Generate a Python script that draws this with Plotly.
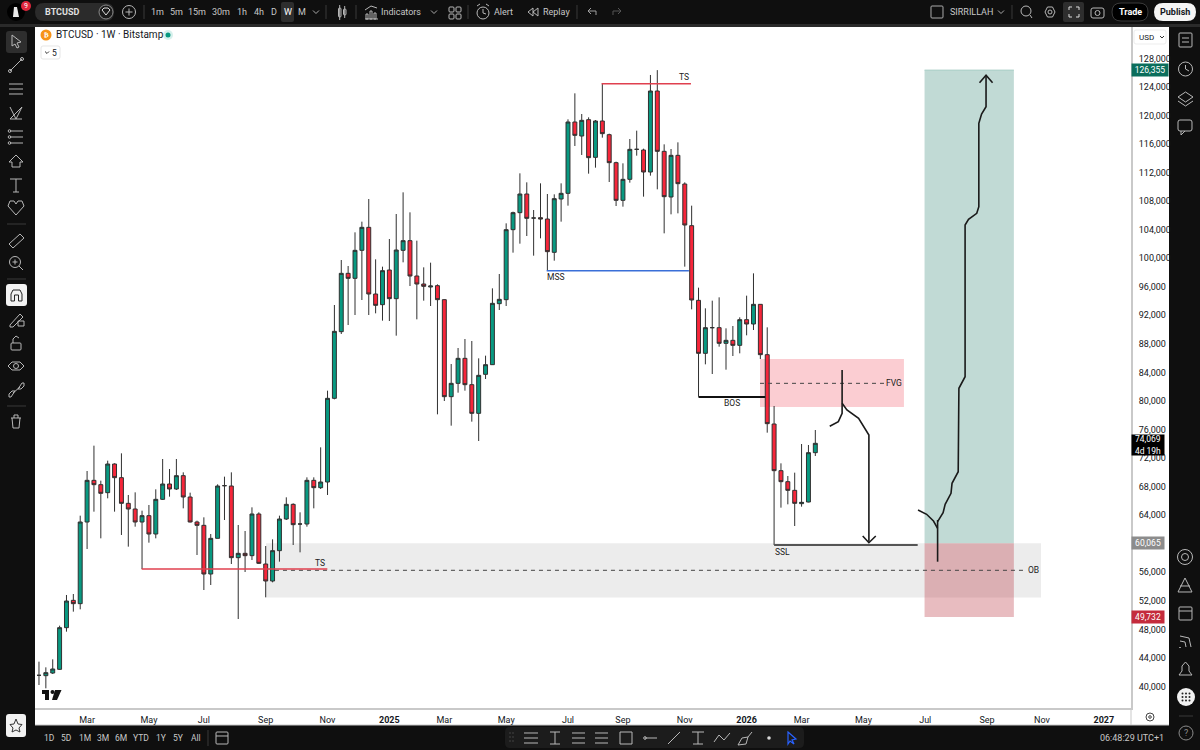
import numpy as np
import plotly.graph_objects as go

# weekly BTCUSD candles
open_p = [41565,41518,41892,42405,48243,52072,51606,63047,68884,68277,67157,71173,69258,65662,64868,63047,
          63934,61366,66222,68371,67670,69538,66549,63047,62580,55762,60759,68137,68090,58050,58657,58330,
          64168,57163,54781,59031,63467,65522,62766,62766,68884,67857,68651,80372,89712,97885,97184,101107,
          104330,94990,93495,98352,94336,101107,102462,97511,96391,95970,96157,94196,80606,82474,85977,82287,
          78271,83735,85089,93635,94196,104003,106384,108999,105637,105684,105497,100827,108299,109093,119087,117125,
          119414,114137,119227,117312,113389,108112,111054,115257,115164,112082,123430,114977,108580,114417,110401,104563,
          94102,86677,90273,90273,88078,88498,87798,91394,90787,93542,86490,76776,70239,68698,67483,65615,65849,72760]
high_p = [43480,42686,43806,48523,52820,52960,63934,70192,73741,68838,71640,71266,72667,66830,67203,64635,
          65429,67623,71873,70472,71873,70005,67157,63234,63701,61366,68324,69398,70005,62627,61786,65102,
          64401,59684,60618,63934,66503,65662,64401,69304,69304,73508,81447,93448,99753,98912,103629,105124,
          108299,99846,98819,102695,106198,109233,106431,102462,98726,99379,96344,94242,85182,87424,88685,88405,
          85977,86350,95784,97792,104890,106524,111895,110634,106758,110494,108999,108953,110494,119460,123103,120208,
          119740,119367,124504,117452,113530,113296,116705,117872,115351,125672,126355,115958,115304,116238,110634,107365,
          95877,92981,94056,94523,90180,90506,91721,94756,97885,93542,90320,79298,71266,69491,69958,73974,73834,75936]
low_p = [40210,39743,41752,42312,47682,50485,50811,59264,64495,60759,66363,64495,61226,59591,62393,56462,
         60151,60759,66129,66596,67530,64962,62990,58423,53520,54220,60759,63327,57163,49457,56042,57723,
         57163,52493,54594,57490,63327,59824,58797,62393,64962,67670,66830,80232,89386,90646,92047,94149,
         92047,92281,91254,91207,89152,99426,96110,91440,94056,93308,78131,79999,76543,81166,81447,77104,
         74395,83081,85042,92748,93308,100780,102041,103115,100360,102789,98259,99660,105124,107365,115725,114464,
         111848,112689,116892,110681,107318,107225,110587,114370,108626,111568,109653,103489,106151,106291,98819,92841,
         80606,85136,83782,87611,84389,86303,86677,89199,89946,85883,75562,59825,65055,65522,62486,65195,65802,72294]
close_p = [41565,41938,42452,48243,51979,51606,63047,68884,68277,67063,71173,69258,65662,64868,63047,63934,
           61366,66222,68371,67670,69538,66549,63047,62580,55762,60759,68090,68137,58050,58657,58330,64168,
           57256,54781,59031,63467,65522,62673,62766,68884,67857,68651,80372,89759,97885,97184,101107,104330,
           94990,93402,98259,94336,101154,102462,97511,96391,96064,96110,94196,80606,82474,85977,82287,78271,
           83595,85089,93682,94242,104003,106384,108999,105590,105637,105497,100920,108346,109093,119087,117219,119320,
           114090,119227,117452,113389,108112,111054,115257,115257,112082,123430,114977,108626,114417,110448,104656,94149,
           86677,90273,90273,88078,88498,87798,91394,90787,93542,86490,76823,70239,68698,67483,65662,65802,72760,74069]
bars = np.arange(len(close_p))

tick_bars = [7,16,24,33,42,51,59,68,77,85,94,103,111,120,129,138,146,155]
tick_labels = ["Mar","May","Jul","Sep","Nov","<b>2025</b>","Mar","May","Jul","Sep","Nov","<b>2026</b>",
               "Mar","May","Jul","Sep","Nov","<b>2027</b>"]
# 60,000 sits under the 60,065 tag in the original
price_ticks = [p for p in range(40000, 132000, 4000) if p != 60000]

# drawings on the chart, bar number and price
ob_bars, ob_prices = [33.04, 145.85], [52468, 60065]
ob_mid_bars, ob_mid_prices = [34.35, 143.5], [56280, 56280]
fvg_bars, fvg_prices = [104.95, 125.9], [79158, 85883]
fvg_mid_bars, fvg_mid_prices = [104.95, 123], [82474, 82474]
target_bars, target_prices = [128.9, 141.9], [60065, 126355]
target_top = [126355, 126355]
stop_prices = [49732, 60065]
ts_top_bars, ts_top_prices = [81.9, 94.9], [124457, 124457]
ts_low_bars, ts_low_prices = [14.95, 41.97], [56462, 56462]
mss_bars, mss_prices = [73.9, 94.6], [98259, 98259]
bos_bars, bos_prices = [96, 105.7], [80560, 80560]
ssl_bars, ssl_prices = [107, 127.9], [59825, 59825]

down_a_bars = [115.1,116.35,116.9,116.9]
down_a_prices = [76454,77098,78275,84342]
down_b_bars = [116.9,117.6,119.3,120.8,120.8]
down_b_prices = [79677,78738,77575,75235,60286]
down_head_bars = [119.9,120.8,121.8]
down_head_prices = [61085,60146,61085]
up_a_bars = [127.95,129.2,130.2,130.8]
up_a_prices = [64727,64125,63187,62164]
up_b_bars = [130.8,130.8]
up_b_prices = [63327,57484]
up_c_bars = [130.8,131.6,131.9,132.75,132.9,133.8,133.9,134.8,134.8,135.3,136.5,136.8,136.8,137.2,137.85,137.85]
up_c_prices = [63088,64349,65526,67067,68468,70094,81778,83403,104656,105455,106295,107220,118904,120207,121230,125531]
up_head_bars = [136.9,137.85,138.8]
up_head_prices = [124592,125629,124592]

# text written on the chart: bar, price, text
chart_labels_bar = [93.9, 40.9, 75.3, 100.8, 108.25, 124.5, 144.8]
chart_labels_price = [125345, 57302, 97370, 79676, 58843, 82474, 56280]
chart_labels = ["TS", "TS", "MSS", "BOS", "SSL", "FVG", "OB"]

# price tags on the axis
tag_prices = [126355, 74069, 60065, 49732]
tag_texts = ["126,355", "74,069<br>4d 19h", "60,065", "49,732"]
tag_colors = ["#0b6e5c", "#000000", "#8c8c8c", "#c42b3c"]

top_items = [("1m",157),("5m",176),("15m",197),("30m",221),("1h",242),("4h",259),("D",273.5),("W",288),("M",302),
             ("Indicators",401),("Alert",503),("Replay",556),("SIRRILLAH",971)]
range_items = [("1D",49),("5D",66),("1M",85),("3M",103),("6M",121),("YTD",141),("1Y",161),("5Y",178),("All",196)]

FONT = "Roboto"
ICON = "#b8b8b8"
chrome = []
notes = []


def X(x):
    return x / 1200


def Y(y):
    return 1 - y / 750


def poly(pts, color=ICON, w=1, close=False, fill=None):
    d = "M " + " L ".join(f"{X(a):.5f} {Y(b):.5f}" for a, b in pts) + (" Z" if close else "")
    chrome.append(dict(type="path", path=d, xref="paper", yref="paper", fillcolor=fill or "rgba(0,0,0,0)",
                       line=dict(color=color, width=w) if w else dict(width=0)))


def box(x0, y0, x1, y1, fill=None, color=None, w=1, r=0):
    # r gives rounded corners
    if r:
        d = (f"M {X(x0+r):.5f} {Y(y0):.5f} L {X(x1-r):.5f} {Y(y0):.5f} Q {X(x1):.5f} {Y(y0):.5f} {X(x1):.5f} {Y(y0+r):.5f} "
             f"L {X(x1):.5f} {Y(y1-r):.5f} Q {X(x1):.5f} {Y(y1):.5f} {X(x1-r):.5f} {Y(y1):.5f} "
             f"L {X(x0+r):.5f} {Y(y1):.5f} Q {X(x0):.5f} {Y(y1):.5f} {X(x0):.5f} {Y(y1-r):.5f} "
             f"L {X(x0):.5f} {Y(y0+r):.5f} Q {X(x0):.5f} {Y(y0):.5f} {X(x0+r):.5f} {Y(y0):.5f} Z")
        chrome.append(dict(type="path", path=d, xref="paper", yref="paper", fillcolor=fill or "rgba(0,0,0,0)",
                           line=dict(color=color, width=w) if color else dict(width=0)))
    else:
        chrome.append(dict(type="rect", xref="paper", yref="paper", x0=X(x0), x1=X(x1), y0=Y(y0), y1=Y(y1),
                           fillcolor=fill or "rgba(0,0,0,0)",
                           line=dict(color=color, width=w) if color else dict(width=0)))


def ring(cx, cy, r, color=ICON, w=1, fill=None):
    chrome.append(dict(type="circle", xref="paper", yref="paper", x0=X(cx-r), x1=X(cx+r), y0=Y(cy-r), y1=Y(cy+r),
                       fillcolor=fill or "rgba(0,0,0,0)",
                       line=dict(color=color, width=w) if w else dict(width=0)))


def label(x, y, text, size=9, color="#c8c8c8", anchor="center"):
    notes.append(dict(x=X(x), y=Y(y), xref="paper", yref="paper", text=text, showarrow=False, xanchor=anchor,
                      yanchor="middle", font=dict(family=FONT, size=size, color=color)))


fig = go.Figure()

# zones behind the candles
zones = [
    dict(x=ob_bars, y=ob_prices, fill="#ececec"),
    dict(x=fvg_bars, y=fvg_prices, fill="#fbcdd2"),
    dict(x=target_bars, y=target_prices, fill="#c1dad5"),
    dict(x=target_bars, y=stop_prices, fill="rgba(189,64,75,0.35)"),
]
zone_shapes = [dict(type="rect", xref="x", yref="y", x0=z["x"][0], x1=z["x"][1], y0=z["y"][0], y1=z["y"][1],
                    fillcolor=z["fill"], line=dict(width=0), layer="below") for z in zones]

fig.add_trace(go.Candlestick(x=bars, open=open_p, high=high_p, low=low_p, close=close_p,
                             increasing=dict(fillcolor="#089981", line=dict(color="#303030", width=1)),
                             decreasing=dict(fillcolor="#f6263a", line=dict(color="#303030", width=1)),
                             hoverinfo="skip"))


def draw(xs, ys, color="#111111", width=2, dash="solid"):
    fig.add_trace(go.Scatter(x=xs, y=ys, mode="lines", line=dict(color=color, width=width, dash=dash),
                             hoverinfo="skip"))


draw(target_bars, target_top, "#a9cec6", 1)
draw(ob_mid_bars, ob_mid_prices, "#444444", 1, "4px,4px")
draw(fvg_mid_bars, fvg_mid_prices, "#444444", 1, "4px,4px")
draw(ts_top_bars, ts_top_prices, "#e0404f", 1.5)
draw(ts_low_bars, ts_low_prices, "#e0404f", 1.5)
draw(mss_bars, mss_prices, "#3a6fd8", 1.5)
draw(bos_bars, bos_prices, "#111111", 2)
draw(ssl_bars, ssl_prices, "#555555", 2)
for xs, ys in [(down_a_bars, down_a_prices), (down_b_bars, down_b_prices), (down_head_bars, down_head_prices),
               (up_a_bars, up_a_prices), (up_b_bars, up_b_prices), (up_c_bars, up_c_prices),
               (up_head_bars, up_head_prices)]:
    draw(xs, ys, "#1a1a1a", 1.6)

for b, p, t in zip(chart_labels_bar, chart_labels_price, chart_labels):
    notes.append(dict(x=b, y=p, xref="x", yref="y", text=t, showarrow=False,
                      font=dict(family=FONT, size=8.5, color="#222222")))

for p, t, c, w, h, s in zip(tag_prices, tag_texts, tag_colors, [36, 32, 32, 32], [12, 20, 12, 12], [0, -2, 0, 0]):
    notes.append(dict(x=X(1131), y=p, xref="paper", yref="y", text=t, showarrow=False, xanchor="left",
                      width=w, height=h, yshift=s, bgcolor=c, align="center", borderpad=0,
                      font=dict(family=FONT, size=8.5, color="#ffffff")))

# white axis panels
box(1131, 27, 1169, 725, fill="#ffffff")
box(35, 708, 1169, 725, fill="#ffffff")
poly([(1131, 708), (1131, 725)], "#c9c9c9", 1)
poly([(35, 725), (1169, 725)], "#c9c9c9", 1)
for s in chrome:
    s["layer"] = "below"

# top bar
box(0, 24, 1200, 27, fill="#2a2a2a")
ring(16, 12, 9, "#000000", 0, fill="#000000")
poly([(14, 7), (17, 7), (19, 17), (13, 17)], "#e8e8e8", 0, True, "#e8e8e8")
ring(26, 6, 5, "#e0263c", 0, fill="#e0263c")
label(26, 6, "9", 7, "#ffffff")
box(35, 3, 114, 21, fill="#2b2b2b", r=9)
label(43, 12, "<b>BTCUSD</b>", 9, "#e0e0e0", "left")
ring(106, 12, 7, "#8a8a8a", 1, fill="#1a1a1a")
poly([(102, 10), (104, 8), (108, 8), (110, 10), (106, 15)], "#dddddd", 1, True)
ring(129, 12, 6.5, ICON)
poly([(125.5, 12), (132.5, 12)])
poly([(129, 8.5), (129, 15.5)])
box(281, 2, 294, 22, fill="#2e2e2e", r=2)
for t, x in top_items:
    label(x, 12, t, 9, "#ffffff" if t == "W" else "#c8c8c8")
for x in [144, 326, 356, 468, 577, 1012]:
    poly([(x, 5), (x, 19)], "#3a3a3a")
for x in [316, 434, 1001]:
    poly([(x-3, 10.5), (x, 13.5), (x+3, 10.5)], "#aaaaaa")
# candle icon
box(338.5, 8, 341, 17, color=ICON, r=1)
box(343.5, 9, 346, 15, color=ICON, r=1)
poly([(339.7, 5), (339.7, 20)])
poly([(344.7, 6), (344.7, 18)])
# indicators
poly([(365, 19), (378, 19)])
box(366, 14, 368, 19, color=ICON)
box(370, 11, 372, 19, color=ICON)
box(374, 13, 376, 19, color=ICON)
poly([(365, 10), (371, 6), (377, 8)])
# layouts
for a in [449, 456]:
    for b in [7, 14]:
        box(a, b, a+5, b+5, color=ICON, r=1)
# alert
ring(483, 13, 6)
poly([(483, 9), (483, 13), (486, 14)])
poly([(477, 6), (480, 4)])
poly([(489, 6), (486, 4)])
# replay
poly([(533, 8), (528, 12), (533, 16)], ICON, 1, True)
poly([(538, 8), (533, 12), (538, 16)], ICON, 1, True)
# undo, redo
poly([(596, 15), (596, 11), (588, 11)], "#a0a0a0")
poly([(591, 8), (588, 11), (591, 14)], "#a0a0a0")
poly([(613, 15), (613, 11), (621, 11)], "#555555")
poly([(618, 8), (621, 11), (618, 14)], "#555555")
# right of top bar
box(931, 6, 943, 18, color="#aaaaaa", r=1)
ring(1026, 11, 5)
poly([(1030, 15), (1032, 18)])
poly([(1045, 12), (1047.5, 7), (1052.5, 7), (1055, 12), (1052.5, 17), (1047.5, 17)], ICON, 1, True)
ring(1050, 12, 2)
box(1063, 2, 1084, 22, fill="#2e2e2e", r=2)
for a, b, c, d in [(1069, 10, 1069, 7), (1079, 10, 1079, 7), (1069, 14, 1069, 17), (1079, 14, 1079, 17)]:
    poly([(a, b), (c, d), (1074 + (a-1074)*0.4, d)], "#dddddd")
box(1091, 8, 1104, 18, color=ICON, r=2)
ring(1097.5, 13, 2.5)
box(1112, 3, 1148, 21, fill="#000000", color="#3a3a3a", r=9)
label(1130, 12, "<b>Trade</b>", 9, "#ffffff")
box(1154, 3, 1196, 21, fill="#f5f5f5", r=9)
label(1175, 12, "<b>Publish</b>", 9, "#131722")

# left toolbar
box(6, 31, 27, 53, fill="#2e2e2e", r=3)
box(6, 284, 27, 306, fill="#f2f2f2", r=3)
poly([(12, 35), (21, 42), (17, 43), (19, 47), (17, 48), (15, 44), (12, 46)], ICON, 1, True)
poly([(10, 71), (22, 59)])
ring(10, 71, 1.5)
ring(22, 59, 1.5)
for y in [84, 89, 94]:
    poly([(9, y), (23, y)])
poly([(10, 107), (16, 119), (22, 107), (10, 119), (22, 119)])
for y in [131, 137, 143]:
    poly([(10, y), (23, y)])
    ring(9.5, y, 1.3)
poly([(16, 155), (23, 162), (20, 162), (20, 167), (12, 167), (12, 162), (9, 162)], ICON, 1, True)
poly([(10, 179), (22, 179)])
poly([(16, 179), (16, 192)])
poly([(13, 192), (19, 192)])
poly([(16, 215), (8, 206), (10, 201), (14, 201), (16, 204), (18, 201), (22, 201), (24, 206)], ICON, 1, True)
for y in [224, 279, 406]:
    poly([(7, y), (26, y)], "#3a3a3a")
poly([(9, 244), (20, 234), (24, 238), (13, 248)], ICON, 1, True)
ring(15, 262, 5.5)
poly([(12.5, 262), (17.5, 262)])
poly([(15, 259.5), (15, 264.5)])
poly([(19, 266), (23, 270)])
poly([(11, 301), (11, 294), (13, 290), (20, 290), (22, 294), (22, 301), (18.5, 301), (18.5, 295), (14.5, 295), (14.5, 301)],
     "#222222", 1, True)
poly([(10, 325), (20, 314), (23, 317), (13, 327), (10, 327)], ICON, 1, True)
box(18, 321, 24, 326, color=ICON)
box(11, 343, 21, 350, color=ICON, r=1)
poly([(13, 343), (13, 339), (16, 336), (19, 338)])
ring(16, 366, 2.5)
poly([(8, 366), (12, 362), (20, 362), (24, 366), (20, 370), (12, 370)], ICON, 1, True)
poly([(9, 394), (12, 391), (15, 391), (11, 397), (9, 397)], ICON, 1, True)
poly([(24, 386), (21, 389), (18, 389), (22, 383), (24, 383)], ICON, 1, True)
poly([(13, 393), (20, 387)])
poly([(11, 418), (21, 418)])
poly([(12, 418), (13, 428), (19, 428), (20, 418)])
poly([(14, 418), (14, 415), (18, 415), (18, 418)])

# right toolbar
box(1179, 33, 1192, 47, color=ICON, r=1)
poly([(1182, 38), (1189, 38)])
poly([(1182, 42), (1189, 42)])
ring(1185.5, 69, 7)
poly([(1185.5, 65), (1185.5, 69), (1189, 71)])
poly([(1178, 97), (1185.5, 92), (1193, 97), (1185.5, 102)], ICON, 1, True)
poly([(1178, 101), (1185.5, 106), (1193, 101)])
box(1178, 120, 1192, 131, color=ICON, r=2)
poly([(1181, 131), (1181, 135), (1185, 131)])
ring(1185, 557, 7.5)
ring(1185, 557, 3.5)
poly([(1178, 592), (1185, 578), (1192, 592)], ICON, 1, True)
poly([(1180, 586), (1190, 586)])
box(1179, 607, 1192, 620, color=ICON, r=1)
poly([(1179, 611), (1192, 611)])
poly([(1180, 647), (1180, 647.8)], ICON, 2)
poly([(1180, 641), (1185, 642), (1186, 647)])
poly([(1180, 636), (1189, 638), (1191, 647)])
poly([(1179, 675), (1192, 675), (1189, 671), (1189, 666), (1185.5, 662), (1182, 666), (1182, 671)], ICON, 1, True)
ring(1186, 697, 9, "#f2f2f2", 0, fill="#f2f2f2")
for a in [1182.5, 1186, 1189.5]:
    for b in [693.5, 697, 700.5]:
        ring(a, b, 1, "#222222", 0, fill="#222222")
poly([(1179, 716), (1193, 716)], "#3a3a3a")
ring(1186, 733, 7, "#8a8a8a")
label(1186, 733, "?", 9, "#8a8a8a")

# chart header
ring(46, 35, 5.5, "#f7931a", 0, fill="#f7931a")
label(46, 35, "<b>₿</b>", 7, "#ffffff")
label(54, 35, "BTCUSD · 1W · Bitstamp", 10, "#131722", "left")
ring(168, 35, 5, "#d6f0ec", 0, fill="#d6f0ec")
ring(168, 35, 2.5, "#089981", 0, fill="#089981")
box(41, 46, 60, 59, fill="#ffffff", color="#e6e6e6", r=2)
poly([(45, 51.5), (47, 53.5), (49, 51.5)], "#333333")
label(54.5, 52.5, "5", 8.5, "#131722")
# USD button
box(1134, 30, 1166, 44, fill="#ffffff", color="#ededed", r=2)
label(1137, 37, "USD", 8, "#131722", "left")
poly([(1160, 36), (1162, 38), (1164, 36)], "#333333")
# tradingview mark
box(42, 690, 49, 694, fill="#111111")
box(45, 690, 49, 700, fill="#111111")
ring(52.5, 692, 2, "#111111", 0, fill="#111111")
poly([(55, 690), (61.5, 690), (57, 700), (52, 700)], "#111111", 0, True, "#111111")
# gear under price axis
ring(1150, 717, 4, "#444444")
ring(1150, 717, 1.3, "#444444")

# bottom bar
box(6, 714, 26, 737, fill="#f2f2f2", r=3)
poly([(16, 719), (18, 724), (22, 724.5), (19, 728), (20, 732), (16, 730), (12, 732), (13, 728), (10, 724.5), (14, 724)],
     "#333333", 1, True)
for t, x in range_items:
    label(x, 738, t, 8.5, "#c8c8c8")
poly([(208, 730), (208, 746)], "#3a3a3a")
box(216, 732, 228, 744, color=ICON, r=1)
poly([(216, 736), (228, 736)])
label(1132, 738, "06:48:29 UTC+1", 9, "#c8c8c8")
box(505, 727, 804, 748, fill="#1c1c1c", r=5)
for a in [510, 513]:
    for b in [733, 737, 741]:
        ring(a, b, 0.7, "#555555", 0, fill="#555555")
for y in [733, 738, 743]:
    poly([(524, y), (538, y)])
poly([(550, 732), (560, 732)])
poly([(555, 732), (555, 744)])
poly([(550, 744), (560, 744)])
for y in [733, 738, 743]:
    poly([(572, y), (585, y)])
for y in [733, 738, 743]:
    poly([(595, y), (608, y)])
box(620, 732, 632, 744, color=ICON)
poly([(645, 738), (657, 738)])
ring(645, 738, 1.3)
poly([(668, 744), (680, 732)])
poly([(692, 732), (704, 732)])
poly([(698, 732), (698, 744)])
poly([(693, 744), (703, 744)])
poly([(714, 742), (719, 735), (724, 740), (730, 733)])
poly([(738, 745), (742, 738), (748, 737), (746, 744)], ICON, 1, True)
poly([(748, 737), (752, 732)])
ring(769, 738, 1.8, "#d8d8d8", 0, fill="#d8d8d8")
poly([(788, 732), (796, 739), (792, 740), (794, 744), (790, 741), (788, 744)], "#2962ff", 1.2, True)

for s in chrome:
    s.setdefault("layer", "above")

fig.update_layout(
    width=1200, height=750, margin=dict(l=0, r=0, t=0, b=0),
    paper_bgcolor="#0f0f0f", plot_bgcolor="#ffffff",
    showlegend=False, hovermode=False, dragmode=False, boxgap=0.18,
    shapes=zone_shapes + chrome, annotations=notes,
    font=dict(family=FONT),
    xaxis=dict(domain=[35/1200, 1131/1200], range=[-0.58, 158.95], rangeslider=dict(visible=False),
               tickmode="array", tickvals=tick_bars, ticktext=tick_labels, showgrid=False, zeroline=False,
               showline=True, linecolor="#c9c9c9", linewidth=2, ticks="outside", ticklen=2, tickcolor="#ffffff",
               tickfont=dict(family=FONT, size=9, color="#131722")),
    yaxis=dict(domain=[1-708/750, 1-27/750], range=[36988, 132396], side="right", tickmode="array",
               tickvals=price_ticks, tickformat=",", showgrid=False, zeroline=False,
               showline=True, linecolor="#c9c9c9", linewidth=2, ticks="outside", ticklen=4, tickcolor="#ffffff",
               tickfont=dict(family=FONT, size=9, color="#131722")),
)

fig.write_html("out.html", config={"displayModeBar": False},
               post_script="document.body.style.margin='0';document.body.style.overflow='hidden';")
